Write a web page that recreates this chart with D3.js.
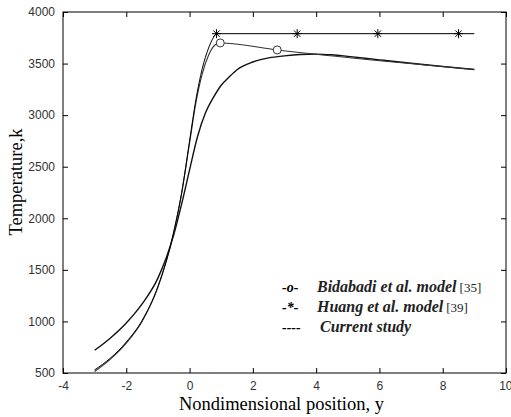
<!DOCTYPE html>
<html><head><meta charset="utf-8">
<script src="https://cdn.jsdelivr.net/npm/d3@7"></script>
<style>body{margin:0;background:#fff}svg{display:block}
.serif{font-family:"Liberation Serif","Times New Roman","DejaVu Serif",serif}
.sans{font-family:Arial,"Liberation Sans",sans-serif}
</style>
</head><body>
<svg id="c" width="511" height="417"></svg>
<script>
// ---- data ----
const xTicks = [-4, -2, 0, 2, 4, 6, 8, 10];
const yTicks = [500, 1000, 1500, 2000, 2500, 3000, 3500, 4000];

const currentX = [-3, -2.5, -2, -1.5, -1, -0.5, -0.25, 0, 0.25, 0.5, 0.75, 1, 1.25, 1.5, 2, 2.5, 3, 3.5, 4, 4.5, 5, 6, 7, 8, 9];
const currentT = [720, 840, 985, 1170, 1420, 1840, 2140, 2470, 2790, 3020, 3170, 3290, 3370, 3440, 3515, 3555, 3575, 3588, 3592, 3585, 3570, 3536, 3503, 3472, 3443];

const huangX = [-3, -2.5, -2, -1.5, -1, -0.5, -0.25, 0, 0.2, 0.4, 0.6, 0.75, 0.85, 3.4, 5.95, 8.5, 9];
const huangT = [530, 645, 800, 1010, 1340, 1870, 2250, 2750, 3150, 3450, 3650, 3750, 3790, 3790, 3790, 3790, 3790];
const huangMarkX = [0.85, 3.4, 5.95, 8.5];
const huangMarkT = [3790, 3790, 3790, 3790];

const bidX = [-3, -2.5, -2, -1.5, -1, -0.5, -0.25, 0, 0.2, 0.4, 0.6, 0.8, 0.97, 2.77, 9];
const bidT = [515, 635, 790, 1000, 1330, 1860, 2240, 2730, 3120, 3400, 3580, 3680, 3700, 3632, 3443];
const bidMarkX = [0.97, 2.77];
const bidMarkT = [3700, 3632];

const legendLabels = ["Bidabadi et al. model", "Huang et al. model", "Current study"];
const legendRefs = ["[35]", "[39]", ""];
const legendKeys = ["-o-", "-*-", "----"];

// ---- layout ----
const L = 63, R = 506, T = 12, B = 373;
const svg = d3.select("#c");
const x = d3.scaleLinear().domain([-4, 10]).range([L, R]);
const y = d3.scaleLinear().domain([500, 4000]).range([B, T]);
const fmt = d => String(d);

svg.append("rect").attr("x", L).attr("y", T).attr("width", R - L).attr("height", B - T)
  .attr("fill", "none").attr("stroke", "#000").attr("stroke-width", 1);

const ax = svg.append("g").attr("transform", `translate(0,${B})`)
  .call(d3.axisBottom(x).tickValues(xTicks).tickFormat(fmt).tickSizeInner(-5).tickSizeOuter(0).tickPadding(8));
ax.select(".domain").remove();
const axT = svg.append("g").attr("transform", `translate(0,${T})`)
  .call(d3.axisTop(x).tickValues(xTicks).tickSizeInner(-5).tickSizeOuter(0).tickFormat(""));
axT.select(".domain").remove();
const ay = svg.append("g").attr("transform", `translate(${L},0)`)
  .call(d3.axisLeft(y).tickValues(yTicks).tickFormat(fmt).tickSizeInner(-5).tickSizeOuter(0).tickPadding(8));
ay.select(".domain").remove();
const ayR = svg.append("g").attr("transform", `translate(${R},0)`)
  .call(d3.axisRight(y).tickValues(yTicks).tickSizeInner(-5).tickSizeOuter(0).tickFormat(""));
ayR.select(".domain").remove();

svg.selectAll("g").attr("font-family", null);
svg.selectAll(".tick text").attr("class", "sans").attr("font-size", 12).attr("fill", "#333");
svg.selectAll(".tick line").attr("stroke", "#000");
// keep last x label inside the window
ax.selectAll(".tick text").filter(d => d === 10).attr("text-anchor", "end").attr("dx", "6");

svg.append("text").attr("class", "serif").attr("x", (L + R) / 2 - 3).attr("y", 410).attr("text-anchor", "middle")
  .attr("font-size", 18.5).text("Nondimensional position, y");
svg.append("text").attr("class", "serif").attr("transform", `translate(22,182) rotate(-90)`).attr("text-anchor", "middle")
  .attr("font-size", 18.5).text("Temperature,k");

// curves
const line = d3.line().curve(d3.curveMonotoneX);
const pts = (xs, ts) => xs.map((v, i) => [x(v), y(ts[i])]);

svg.append("path").attr("d", line(pts(currentX, currentT)))
  .attr("fill", "none").attr("stroke", "#111").attr("stroke-width", 1.4);
svg.append("path").attr("d", line(pts(bidX, bidT)))
  .attr("fill", "none").attr("stroke", "#333").attr("stroke-width", 1.1);
svg.append("path").attr("d", line(pts(huangX, huangT)))
  .attr("fill", "none").attr("stroke", "#000").attr("stroke-width", 1);

svg.selectAll(".bm").data(bidMarkX).enter().append("circle")
  .attr("cx", d => x(d)).attr("cy", (d, i) => y(bidMarkT[i])).attr("r", 4)
  .attr("fill", "#fff").attr("stroke", "#333").attr("stroke-width", 1);

svg.selectAll(".hm").data(huangMarkX).enter().append("path")
  .attr("d", (d, i) => {
    const cx = x(d), cy = y(huangMarkT[i]), s = 4.5, k = 3.2;
    return `M${cx - s},${cy}H${cx + s}M${cx},${cy - s}V${cy + s}` +
      `M${cx - k},${cy - k}L${cx + k},${cy + k}M${cx - k},${cy + k}L${cx + k},${cy - k}`;
  })
  .attr("stroke", "#000").attr("stroke-width", 1).attr("fill", "none");

// legend
const lg = svg.append("g");
legendLabels.forEach((lab, i) => {
  const yy = 292 + i * 20;
  const tx = i === 2 ? 320 : 317;
  lg.append("text").attr("class", "serif").attr("x", 282).attr("y", yy)
    .attr("font-size", 14).attr("font-style", "italic").attr("font-weight", "bold").text(legendKeys[i]);
  const t = lg.append("text").attr("class", "serif").attr("x", tx).attr("y", yy)
    .attr("font-size", 16).attr("font-style", "italic").attr("font-weight", "bold").attr("fill", "#222").text(lab);
  if (legendRefs[i]) {
    const w = t.node().getComputedTextLength();
    lg.append("text").attr("class", "serif").attr("x", tx + w + 3).attr("y", yy)
      .attr("font-size", 13).attr("fill", "#222").text(legendRefs[i]);
  }
});
</script>
</body></html>
